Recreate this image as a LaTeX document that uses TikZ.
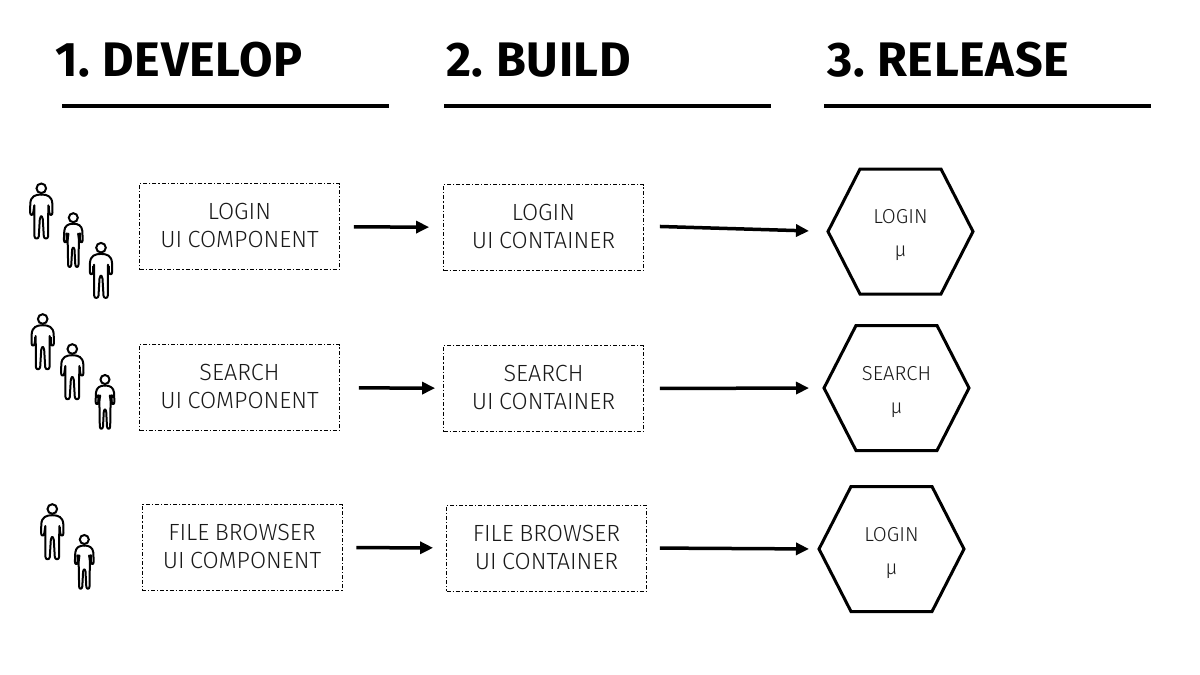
\documentclass[tikz,border=0pt]{standalone}
\usepackage{fontspec}
\setmainfont{Fira Sans}[UprightFont=* Light,BoldFont=* Bold,WordSpace=0.85]
\newfontface\titlefont{Fira Sans Bold}[LetterSpace=1.4,WordSpace=0.7]
\usetikzlibrary{arrows.meta}

\newcommand{\hextxt}[1]{\rule{0pt}{22pt}#1\\µ}
\newcommand{\hexborde}[1]{\draw[line width=3pt] ([xshift=32pt]#1.north west) -- ([xshift=-32pt]#1.north east) -- (#1.east)
	-- ([xshift=-32pt]#1.south east) -- ([xshift=32pt]#1.south west) -- (#1.west) -- cycle;}

\tikzset{
	caja/.style={draw, line width=.8pt, dash pattern=on 4pt off 2pt on 1.2pt off 2pt, minimum width=200pt, minimum height=86pt, align=center, text depth=2pt, font=\fontsize{23.4}{28}\selectfont, text=black!90},
	hexa/.style={minimum width=145pt, minimum height=125pt, inner sep=0pt, outer sep=0pt, align=center, font=\fontsize{20.2}{33}\selectfont, text=black!90},
	titulo/.style={anchor=base west, inner sep=0pt, font=\fontsize{48.5}{48}\titlefont},
	regla/.style={line width=4pt},
	flecha/.style={-{Stealth[length=13pt,width=12pt,inset=0pt]}, line width=3.5pt, shorten <=14pt},
	man/.pic={
		\draw[line width=2pt] (0,0) circle (4.8);
		\foreach \s in {-1,1}{
			\draw[xscale=\s, line width=2pt, line join=round, line cap=round]
			(0,6.2) .. controls (-6,6.2) and (-10.5,8) .. (-11,15)		%%	hombro
			-- (-11.2,24) .. controls (-11.2,27.5) and (-8.2,27.5) .. (-8,24)	%%	mano
			-- (-7,17) -- (-6.8,48)
			.. controls (-6.8,51) and (-2.7,51) .. (-2.5,48)		%%	pie
			-- (-1.5,31) .. controls (-1.2,28) and (0,28) .. (0,28);
			\draw[xscale=\s, line width=2.4pt] (-7.6,18) -- (-7.6,25);
		}
	},
	woman/.pic={
		\draw[line width=2pt] (0,0) circle (4.5);
		\foreach \s in {-1,1}{
			\draw[xscale=\s, line width=2pt, line join=round, line cap=round]
			(0,6) .. controls (-5,6) and (-8.5,8) .. (-9,13)		%%	hombro
			-- (-9.4,22) .. controls (-9.4,25.5) and (-6.8,25.5) .. (-6.6,22)	%%	mano
			-- (-4.8,16) .. controls (-5.5,20) and (-6,24) .. (-5.5,28)
			-- (-5.2,47) .. controls (-5.2,50) and (-2.2,50) .. (-2,47)	%%	pie
			-- (-1.2,32) .. controls (-1,30) and (0,30) .. (0,30);
			\draw[xscale=\s, line width=2.4pt] (-6.8,15) -- (-6.2,23);
		}
	}
}

\begin{document}
\begin{tikzpicture}[x=1pt,y=-1pt]
\useasboundingbox (0,0) rectangle (1200,675);

%%%%%%%%%%%%%%%%%%%%%%%%%%%%%%%%%%%%%%%%	TITULOS
\node[titulo] (tdevelop) at (55,76) {1. DEVELOP};
\node[titulo] (tbuild) at (446,76) {2. BUILD};
\node[titulo] (trelease) at (827,76) {3. RELEASE};
\draw[regla] (62,106) -- (389,106);
\draw[regla] (444,106) -- (771,106);
\draw[regla] (824,106) -- (1151,106);

%%%%%%%%%%%%%%%%%%%%%%%%%%%%%%%%%%%%%%%%	PERSONAS
\pic at (41.3,188.3) {man};
\pic at (73.3,217.7) {woman};
\pic at (101,247.7) {man};

\pic at (42.7,319) {man};
\pic at (72.3,349) {man};
\pic at (105,379.5) {woman};

\pic at (52.3,509) {man};
\pic at (84.3,539.5) {woman};

%%%%%%%%%%%%%%%%%%%%%%%%%%%%%%%%%%%%%%%%	COMPONENTES
\node[caja] (logincomp) at (239.5,226.5) {LOGIN\\UI COMPONENT};
\node[caja] (searchcomp) at (239.5,387.5) {SEARCH\\UI COMPONENT};
\node[caja] (filecomp) at (242,547.5) {FILE BROWSER\\UI COMPONENT};

%%%%%%%%%%%%%%%%%%%%%%%%%%%%%%%%%%%%%%%%	CONTENEDORES
\node[caja] (logincont) at (543.5,227.5) {LOGIN\\UI CONTAINER};
\node[caja] (searchcont) at (543.5,388.5) {SEARCH\\UI CONTAINER};
\node[caja] (filecont) at (546.5,548) {FILE BROWSER\\UI CONTAINER};

%%%%%%%%%%%%%%%%%%%%%%%%%%%%%%%%%%%%%%%%	MICROSERVICIOS
\node[hexa] (loginmu) at (900.5,231.5) {\hextxt{LOGIN}};
\node[hexa] (searchmu) at (896.5,388) {\hextxt{SEARCH}};
\node[hexa] (filemu) at (891.5,549) {\hextxt{LOGIN}};
\hexborde{loginmu}
\hexborde{searchmu}
\hexborde{filemu}

%%%%%%%%%%%%%%%%%%%%%%%%%%%%%%%%%%%%%%%%	FLECHAS
\draw[flecha, shorten >=14pt] (logincomp) -- (logincont);
\draw[flecha, shorten >=19pt, shorten <=16pt] ([yshift=1.5pt]logincont.east) -- (loginmu.west);
\draw[flecha, shorten >=8pt, shorten <=19pt] (searchcomp) -- (searchcont);
\draw[flecha, shorten >=15pt, shorten <=16pt] (searchcont.east) -- (searchmu.west);
\draw[flecha, shorten >=13pt, shorten <=14pt] (filecomp) -- (filecont);
\draw[flecha, shorten >=10pt, shorten <=13pt] (filecont.east) -- (filemu.west);

\end{tikzpicture}
\end{document}
